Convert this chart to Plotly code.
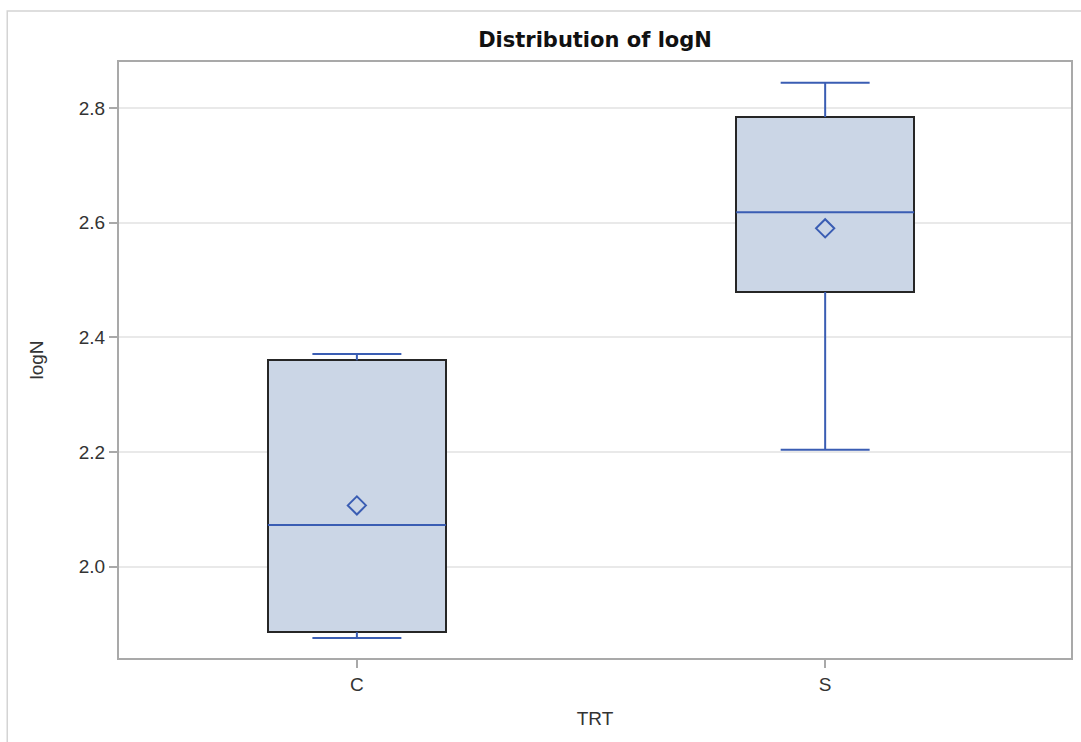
import plotly.graph_objects as go

# Five-number summaries and means of logN per treatment group
groups = ["C", "S"]
lower_whisker = [1.876, 2.204]
q1 = [1.886, 2.479]
median = [2.073, 2.618]
q3 = [2.360, 2.784]
upper_whisker = [2.371, 2.844]
mean = [2.107, 2.590]

y_ticks = [2.0, 2.2, 2.4, 2.6, 2.8]

BLUE = "#3A5DB3"
FILL = "#CBD6E6"
OUTLINE = "#262626"
FRAME = "#A9A9A9"
GRID = "#E9E9E9"
FONT = "Liberation Sans, Arial, sans-serif"
BOX_W = 0.38          # box width in category units
CAP_W = BOX_W / 2     # whisker cap width

pos = list(range(len(groups)))

fig = go.Figure()

# interquartile boxes: light fill with dark outline
fig.add_trace(go.Bar(
    x=pos,
    base=q1,
    y=[hi - lo for hi, lo in zip(q3, q1)],
    width=BOX_W,
    marker=dict(color=FILL, line=dict(color=OUTLINE, width=2)),
    hoverinfo="skip",
    showlegend=False,
))

# whiskers, caps and medians in blue
wx, wy = [], []
for i in pos:
    # lower whisker + cap
    wx += [i, i, None, i - CAP_W / 2, i + CAP_W / 2, None]
    wy += [q1[i], lower_whisker[i], None, lower_whisker[i], lower_whisker[i], None]
    # upper whisker + cap
    wx += [i, i, None, i - CAP_W / 2, i + CAP_W / 2, None]
    wy += [q3[i], upper_whisker[i], None, upper_whisker[i], upper_whisker[i], None]
    # median
    wx += [i - BOX_W / 2, i + BOX_W / 2, None]
    wy += [median[i], median[i], None]

fig.add_trace(go.Scatter(
    x=wx, y=wy, mode="lines",
    line=dict(color=BLUE, width=2),
    hoverinfo="skip",
    showlegend=False,
))

# group means as open diamonds
fig.add_trace(go.Scatter(
    x=pos, y=mean, mode="markers",
    marker=dict(symbol="diamond-open", size=14, color=BLUE, line=dict(width=2, color=BLUE)),
    hoverinfo="skip",
    showlegend=False,
))

# light outer frame around the graph
fig.add_shape(type="rect", xref="paper", yref="paper",
              x0=-0.1174, x1=1.3, y0=-0.3, y1=1.0856,
              line=dict(color="#D4D4D4", width=1.5), layer="below")

fig.update_layout(
    width=1081, height=742,
    margin=dict(l=119, r=8, t=62, b=84),
    paper_bgcolor="white", plot_bgcolor="white",
    font=dict(family=FONT, size=18, color="#333333"),
    title=dict(text="<b>Distribution of logN</b>", x=0.5, xref="paper",
               y=1 - 40 / 742, yref="container", yanchor="middle",
               font=dict(family="DejaVu Sans, Verdana, sans-serif", size=21, color="#111111")),
    bargap=0,
)

fig.update_xaxes(
    range=[-0.508, 1.525],
    tickvals=pos, ticktext=groups,
    showline=True, mirror=True, linecolor=FRAME, linewidth=2,
    ticks="outside", ticklen=8, tickcolor=FRAME, tickwidth=1.5,
    showgrid=False, zeroline=False,
    title=dict(text="TRT", standoff=18, font=dict(size=19, color="#333333")),
    tickfont=dict(size=19, color="#333333"),
)
fig.update_yaxes(
    range=[1.841, 2.880],
    tickvals=y_ticks, ticktext=[f"{v:.1f}" for v in y_ticks],
    showline=True, mirror=True, linecolor=FRAME, linewidth=2,
    ticks="outside", ticklen=8, tickcolor=FRAME, tickwidth=1.5,
    showgrid=True, gridcolor=GRID, gridwidth=1.5, zeroline=False,
    title=dict(text="logN", standoff=30, font=dict(size=19, color="#333333")),
    tickfont=dict(size=19, color="#333333"),
)

fig.write_html("out.html")
